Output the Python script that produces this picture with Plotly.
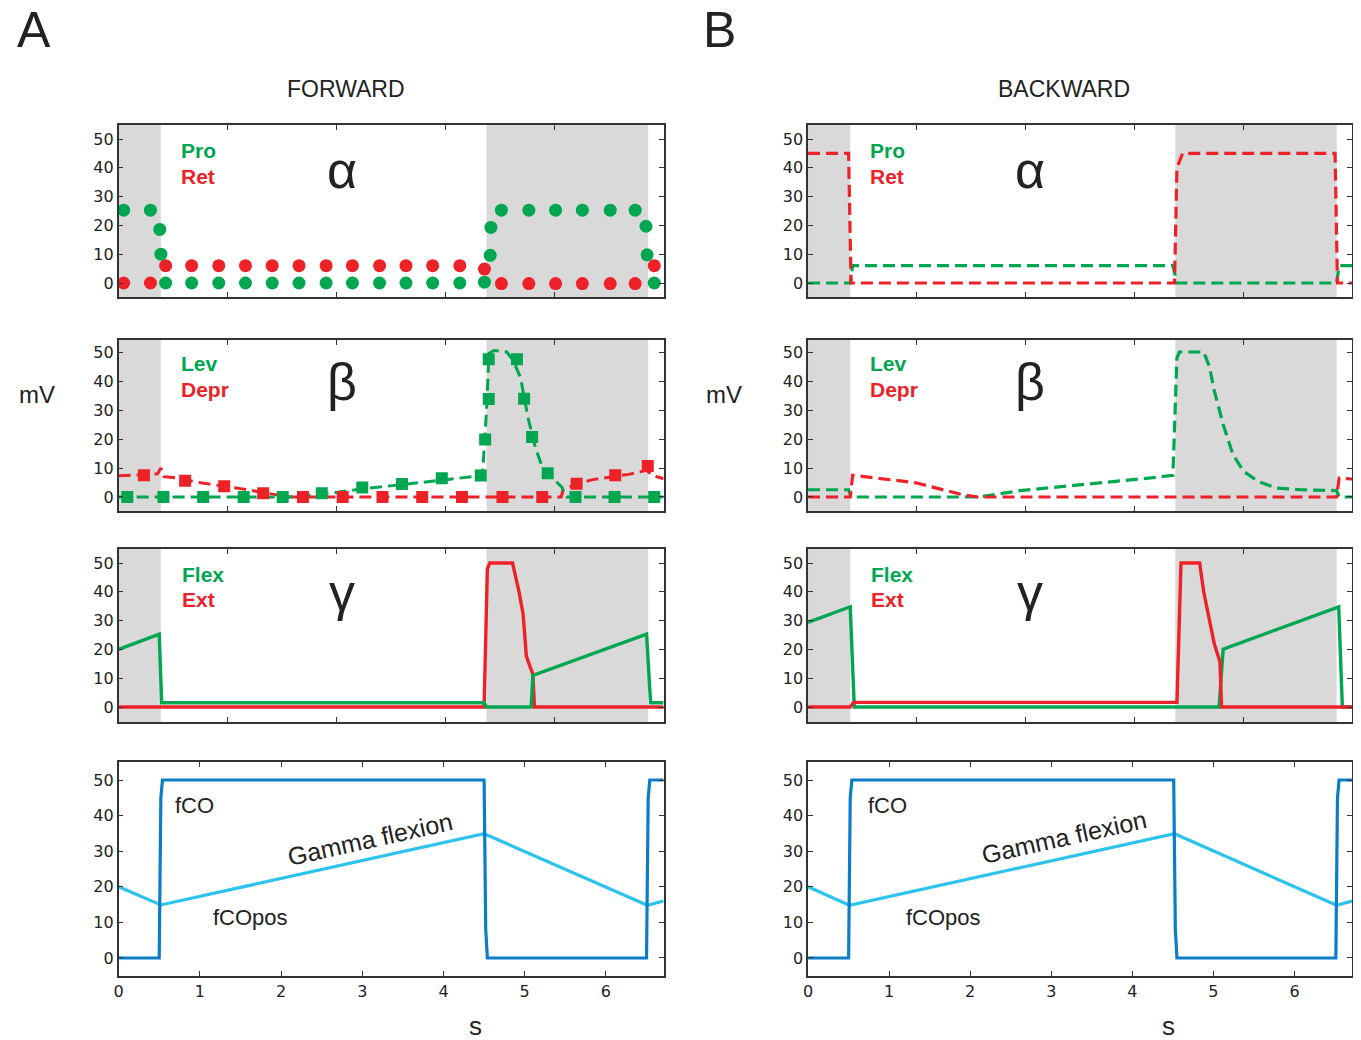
import plotly.graph_objects as go
from plotly.subplots import make_subplots

W, H = 1361, 1040
OFF = 8  # page body margin compensation
GREEN = '#00a650'
RED = '#ed2128'
BLUE = '#0a7dc6'
CYAN = '#2cc3ec'
GRAY = '#d9d9d9'
INK = '#222222'

# ---------------- data: FORWARD ----------------
# alpha (dots)
pro_fwd_x = [0.062, 0.392, 0.507, 0.521, 0.579, 0.899, 1.233, 1.562, 1.891, 2.221, 2.555, 2.879, 3.213, 3.538,
             3.867, 4.201, 4.504, 4.575, 4.584, 4.713, 5.051, 5.380, 5.710, 6.053, 6.360, 6.493, 6.507, 6.595]
pro_fwd_y = [25.3, 25.3, 18.6, 10.0, 0, 0, 0, 0, 0, 0, 0, 0, 0, 0,
             0, 0, 0.3, 9.6, 19.3, 25.3, 25.3, 25.3, 25.3, 25.3, 25.3, 19.7, 9.8, 0]
ret_fwd_x = [0.062, 0.392, 0.579, 0.899, 1.233, 1.562, 1.891, 2.221, 2.555, 2.879, 3.213, 3.538, 3.867, 4.201,
             4.504, 4.713, 5.051, 5.380, 5.710, 6.053, 6.360, 6.595]
ret_fwd_y = [0, 0, 6, 6, 6, 6, 6, 6, 6, 6, 6, 6, 6, 6,
             4.85, -0.2, -0.2, -0.2, -0.2, -0.2, -0.2, 6]

# beta (squares + dashed lines)
lev_fwd_mx = [0.107, 0.552, 1.041, 1.540, 2.020, 2.501, 3.000, 3.489, 3.979, 4.459, 4.513, 4.557, 4.557, 4.904,
              4.993, 5.091, 5.283, 5.625, 6.106, 6.595]
lev_fwd_my = [0, 0, 0, 0, 0, 1.3, 3.3, 4.5, 6.5, 7.4, 19.8, 33.8, 47.5, 47.5,
              33.9, 20.7, 8.2, 0, 0, 0]
depr_fwd_mx = [0.312, 0.819, 1.300, 1.780, 2.270, 2.759, 3.249, 3.738, 4.228, 4.726, 5.216, 5.639, 6.115, 6.515]
depr_fwd_my = [7.5, 5.6, 3.7, 1.3, 0, 0, 0, 0, 0, 0, 0, 4.6, 7.5, 10.7]
lev_fwd_x = [0, 2.1, 2.5, 3.0, 3.5, 4.0, 4.48, 4.53, 4.56, 4.62, 4.78, 4.86, 4.95, 5.04, 5.13, 5.22, 5.37, 5.46,
             5.48, 5.52, 6.71]
lev_fwd_y = [0, 0, 0.9, 2.8, 4.3, 5.8, 7.4, 30, 49.5, 50.5, 50, 47, 41, 27.4, 17.2, 10, 5.6, 3.3, 1.5, 0, 0]
depr_fwd_x = [0, 0.3, 0.48, 0.52, 0.56, 0.7, 1.03, 1.52, 1.88, 2.1, 5.45, 5.47, 5.64, 5.84, 6.28, 6.5, 6.57, 6.71]
depr_fwd_y = [7.3, 7.6, 8.0, 10.0, 7.0, 6.6, 4.8, 2.8, 1.1, 0, 0, 2.2, 4.6, 6.0, 7.8, 9.2, 7.5, 6.3]

# gamma (solid)
flex_fwd_x = [0, 0.50, 0.53, 4.50, 4.53, 5.08, 5.10, 6.50, 6.55, 6.71]
flex_fwd_y = [20, 25.3, 1.5, 1.5, 0, 0, 11, 25.3, 1.5, 1.5]
ext_fwd_x = [0, 4.50, 4.54, 4.57, 4.85, 4.93, 4.98, 5.00, 5.02, 5.07, 5.10, 5.12, 6.71]
ext_fwd_y = [0, 0, 48, 50, 50, 40, 32.3, 25, 17.7, 13.7, 11.5, 0, 0]

# fCO / fCOpos
fco_fwd_x = [0, 0.50, 0.52, 0.54, 4.50, 4.52, 4.54, 6.50, 6.52, 6.54, 6.71]
fco_fwd_y = [0, 0, 45, 50, 50, 8, 0, 0, 45, 50, 50]
fcopos_fwd_x = [0, 0.52, 4.50, 6.51, 6.71]
fcopos_fwd_y = [20, 14.9, 34.9, 14.8, 16.0]

# ---------------- data: BACKWARD ----------------
ret_bwd_x = [0, 0.50, 0.53, 4.52, 4.55, 4.62, 6.50, 6.53, 6.71]
ret_bwd_y = [45, 45, 0, 0, 40, 45, 45, 0, 0]
pro_bwd_x = [0, 0.52, 0.55, 4.50, 4.55, 6.52, 6.55, 6.71]
pro_bwd_y = [0, 0, 6, 6, 0, 0, 6, 6]

lev_bwd_x = [0, 0.50, 0.53, 2.1, 2.62, 3.42, 4.30, 4.50, 4.55, 4.58, 4.88, 4.95, 5.01, 5.12, 5.24, 5.37, 5.55,
             5.77, 6.08, 6.52, 6.55, 6.71]
lev_bwd_y = [2.5, 2.5, 0, 0, 2.2, 4.3, 6.8, 7.5, 48, 50, 50, 45, 36.7, 25, 14.7, 8.9, 5.4,
             3.1, 2.5, 2.2, 0, 0]
depr_bwd_x = [0, 0.52, 0.55, 0.75, 1.33, 1.9, 2.09, 6.52, 6.55, 6.71]
depr_bwd_y = [0, 0, 7.5, 6.8, 4.9, 0.8, 0, 0, 6.5, 6.2]

flex_bwd_x = [0, 0.52, 0.57, 5.07, 5.12, 6.545, 6.59, 6.71]
flex_bwd_y = [29.4, 34.8, 0, 0, 20.1, 34.8, 0, 0]
ext_bwd_x = [0, 0.52, 0.56, 4.55, 4.60, 4.83, 4.88, 4.95, 5.01, 5.08, 5.10, 6.71]
ext_bwd_y = [0, 0, 1.6, 1.6, 50, 50, 40, 30, 22, 15.7, 0, 0]

fco_bwd_x = [0, 0.50, 0.52, 0.54, 4.51, 4.53, 4.55, 6.51, 6.53, 6.55, 6.71]
fco_bwd_y = [0, 0, 45, 50, 50, 8, 0, 0, 45, 50, 50]
fcopos_bwd_x = [0, 0.51, 4.52, 6.52, 6.71]
fcopos_bwd_y = [20, 14.8, 34.9, 14.8, 16.0]

# shaded (stance) intervals
shade_intervals = [(0, 0.52), (4.53, 6.52)]

y_ticks = [0, 10, 20, 30, 40, 50]
x_ticks = [0, 1, 2, 3, 4, 5, 6]
x_tick_text = ['0', '1', '2', '3', '4', '5', '6']

# ---------------- figure ----------------
fig = make_subplots(rows=4, cols=2)

X_DOM = {1: (114, 661), 2: (806, 1352)}
Y_DOM = {1: (125, 297), 2: (340, 511), 3: (549, 722), 4: (762, 976)}
Y_RANGE = {1: [-4.86, 54.86], 2: [-4.83, 54.14], 3: [-5.2, 54.86], 4: [-5.06, 55.06]}
X_RANGE = [0, 6.71]

DASH = '12px,6px'


def line(x, y, color, row, col, dash=None, width=3.2):
    fig.add_trace(go.Scatter(x=x, y=y, mode='lines',
                             line=dict(color=color, width=width, dash=dash),
                             showlegend=False, hoverinfo='skip'), row=row, col=col)


def dots(x, y, color, row, col, symbol='circle', size=13):
    fig.add_trace(go.Scatter(x=x, y=y, mode='markers',
                             marker=dict(color=color, size=size, symbol=symbol, line=dict(width=0)),
                             showlegend=False, hoverinfo='skip'), row=row, col=col)


# Forward
dots(ret_fwd_x, ret_fwd_y, RED, 1, 1)
dots(pro_fwd_x, pro_fwd_y, GREEN, 1, 1)

line(depr_fwd_x, depr_fwd_y, RED, 2, 1, DASH, 3)
line(lev_fwd_x, lev_fwd_y, GREEN, 2, 1, DASH, 3)
dots(depr_fwd_mx, depr_fwd_my, RED, 2, 1, 'square', 12)
dots(lev_fwd_mx, lev_fwd_my, GREEN, 2, 1, 'square', 12)

line(ext_fwd_x, ext_fwd_y, RED, 3, 1, None, 3.4)
line(flex_fwd_x, flex_fwd_y, GREEN, 3, 1, None, 3.4)

line(fcopos_fwd_x, fcopos_fwd_y, CYAN, 4, 1, None, 3.2)
line(fco_fwd_x, fco_fwd_y, BLUE, 4, 1, None, 3.2)

# Backward
line(pro_bwd_x, pro_bwd_y, GREEN, 1, 2, DASH, 3.2)
line(ret_bwd_x, ret_bwd_y, RED, 1, 2, DASH, 3.2)

line(lev_bwd_x, lev_bwd_y, GREEN, 2, 2, DASH, 3.2)
line(depr_bwd_x, depr_bwd_y, RED, 2, 2, DASH, 3.2)

line(flex_bwd_x, flex_bwd_y, GREEN, 3, 2, None, 3.4)
line(ext_bwd_x, ext_bwd_y, RED, 3, 2, None, 3.4)

line(fcopos_bwd_x, fcopos_bwd_y, CYAN, 4, 2, None, 3.2)
line(fco_bwd_x, fco_bwd_y, BLUE, 4, 2, None, 3.2)

upper_x_ticks = [X_RANGE[1] * k / 5 for k in range(1, 5)]


def fx(px):
    return (px - OFF) / W


def fy(py):
    return 1 - (py - OFF) / H


for r in range(1, 5):
    for c in (1, 2):
        x0, x1 = X_DOM[c]
        y0, y1 = Y_DOM[r]
        fig.update_xaxes(domain=[fx(x0), fx(x1)], range=X_RANGE, row=r, col=c,
                         showgrid=False, zeroline=False, showline=True, linecolor='#333333', linewidth=1.6,
                         mirror='ticks', ticks='inside', ticklen=5, tickwidth=1, tickcolor='#333333',
                         tickvals=x_ticks if r == 4 else upper_x_ticks,
                         ticktext=x_tick_text if r == 4 else None,
                         showticklabels=(r == 4),
                         tickfont=dict(family='DejaVu Sans', size=16, color=INK))
        fig.update_yaxes(domain=[fy(y1), fy(y0)], range=Y_RANGE[r], row=r, col=c,
                         showgrid=False, zeroline=False, showline=True, linecolor='#333333', linewidth=1.6,
                         mirror='ticks', ticks='inside', ticklen=5, tickwidth=1, tickcolor='#333333',
                         tickvals=y_ticks, tickfont=dict(family='DejaVu Sans', size=16, color=INK))
        if r < 4:
            for a, b in shade_intervals:
                fig.add_vrect(x0=a, x1=b, fillcolor=GRAY, opacity=1, line_width=0, layer='below',
                              row=r, col=c)

TXT = 'Liberation Sans, Arial, sans-serif'


def ann(text, px, py, size, color=INK, xanchor='center', bold=False, angle=0):
    fig.add_annotation(text=f'<b>{text}</b>' if bold else text, x=fx(px), y=fy(py),
                       xref='paper', yref='paper', showarrow=False, xanchor=xanchor, yanchor='middle',
                       textangle=angle, font=dict(family=TXT, size=size, color=color))


ann('A', 29, 30, 50)
ann('B', 717, 30, 50)
ann('FORWARD', 342, 89, 23)
ann('BACKWARD', 1063, 89, 23)
ann('mV', 32, 394, 24)
ann('mV', 722, 394, 24)
ann('s', 472, 1026, 26)
ann('s', 1168, 1026, 26)

for dx in (0, 691):
    ann('Pro', 175 + dx, 151, 21, GREEN, 'left', True)
    ann('Ret', 175 + dx, 177, 21, RED, 'left', True)
    ann('Lev', 175 + dx, 363, 21, GREEN, 'left', True)
    ann('Depr', 175 + dx, 389, 21, RED, 'left', True)
    ann('Flex', 176 + dx, 574, 21, GREEN, 'left', True)
    ann('Ext', 176 + dx, 599, 21, RED, 'left', True)
    ann('α', 338 + dx, 170, 52)
    ann('β', 338 + dx, 382, 52)
    ann('γ', 338 + dx, 592, 52)

ann('fCO', 190, 805, 22)
ann('Gamma flexion', 366, 839, 25, angle=-12.5)
ann('fCOpos', 246, 917, 22)
ann('fCO', 886, 805, 22)
ann('Gamma flexion', 1063, 837, 25, angle=-12.5)
ann('fCOpos', 942, 917, 22)

fig.update_layout(width=W, height=H, margin=dict(l=0, r=0, t=0, b=0),
                  paper_bgcolor='white', plot_bgcolor='white', showlegend=False)

fig.write_html('out.html')
